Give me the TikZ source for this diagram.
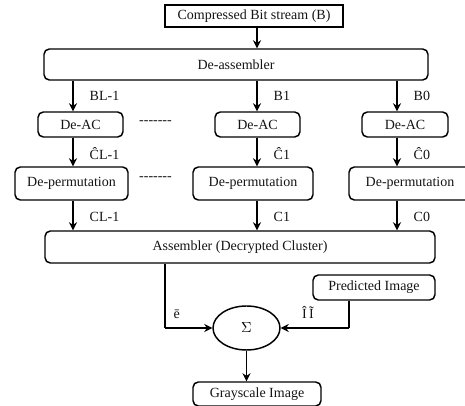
\documentclass[tikz,border=0pt]{standalone}
\usepackage{fontspec}
\setmainfont{Liberation Serif}
\usetikzlibrary{arrows.meta,shapes.geometric}
\definecolor{boxblack}{RGB}{0, 0, 0}
\definecolor{textblack}{RGB}{20, 20, 20}

\begin{document}
\begin{tikzpicture}[
        x=0.75pt, y=-0.75pt,
        font=\fontsize{10.5}{12}\selectfont,
        plainbox/.style={rectangle, draw=boxblack, line width=1.2pt, inner sep=0pt, text=textblack},
        roundbox/.style={rectangle, rounded corners=4pt, draw=boxblack, line width=1.1pt, inner sep=0pt, text=textblack},
        sumnode/.style={ellipse, draw=boxblack, line width=1.1pt, inner sep=0pt, minimum width=50.25pt, minimum height=33pt},
        flow/.style={-{Stealth[length=6pt, width=6pt]}, line width=1.1pt, color=boxblack},
        link/.style={line width=1.1pt, color=boxblack},
        lbl/.style={right, inner sep=0pt, xshift=12pt, text=textblack},
        dots/.style={inner sep=0pt, text=textblack}
    ]
    \useasboundingbox (0,0) rectangle (465,406);

    % Columns of the three branches
    \coordinate (colL) at (73,0);
    \coordinate (colM) at (257,0);
    \coordinate (colR) at (397,0);
    \coordinate (colE) at (165,0);
    \coordinate (colP) at (349,0);

    % Input and de-assembler
    \node[plainbox, minimum width=133.5pt, minimum height=16.5pt] (bitstream) at (254,16) {Compressed Bit stream (B)};
    \node[roundbox, minimum width=288pt, minimum height=23.25pt] (deasm) at (236,64.5) {De-assembler};

    % De-AC stage
    \node[roundbox, minimum width=63.75pt, minimum height=18.75pt] (deacL) at (80.5,124.5) {De-AC};
    \node[roundbox, minimum width=63.75pt, minimum height=18.75pt] (deacM) at (257.5,124.5) {De-AC};
    \node[roundbox, minimum width=64.5pt, minimum height=18.75pt] (deacR) at (405,124.5) {De-AC};
    \node[dots] (dotsA) at (155.5,123) {-{}-{}-{}-{}-{}-{}-};

    % De-permutation stage
    \node[roundbox, minimum width=84.75pt, minimum height=24.75pt] (dpermL) at (71.5,183.5) {De-permutation};
    \node[roundbox, minimum width=90pt, minimum height=24.75pt] (dpermM) at (253,183.5) {De-permutation};
    \node[roundbox, minimum width=91.5pt, minimum height=24.75pt] (dpermR) at (410,183.5) {De-permutation};
    \node[dots] (dotsB) at (155.5,179) {-{}-{}-{}-{}-{}-{}-};

    % Assembler and prediction
    \node[roundbox, minimum width=292.5pt, minimum height=24pt] (asm) at (240,247) {Assembler (Decrypted Cluster)};
    \node[roundbox, minimum width=91.5pt, minimum height=18.75pt] (pred) at (374,287.5) {Predicted Image};
    \node[sumnode] (sigma) at (246.5,328) {$\Sigma$};
    \node[roundbox, minimum width=96pt, minimum height=18pt] (gray) at (257,394) {Grayscale Image};

    % Flows
    \draw[flow] (bitstream.south -| colM) -- (deasm.north -| colM);

    \draw[flow] (colL |- deasm.south) -- node[lbl, pos=0.5] {BL-1} (colL |- deacL.north);
    \draw[flow] (colM |- deasm.south) -- node[lbl, pos=0.5] {B1} (colM |- deacM.north);
    \draw[flow] (colR |- deasm.south) -- node[lbl, pos=0.5] {B0} (colR |- deacR.north);

    \draw[flow] (colL |- deacL.south) -- node[lbl, pos=0.55] {\^{C}L-1} (colL |- dpermL.north);
    \draw[flow] (colM |- deacM.south) -- node[lbl, pos=0.55] {\^{C}1} (colM |- dpermM.north);
    \draw[flow] (colR |- deacR.south) -- node[lbl, pos=0.55] {\^{C}0} (colR |- dpermR.north);

    \draw[flow] (colL |- dpermL.south) -- node[lbl, pos=0.55] {CL-1} (colL |- asm.north);
    \draw[flow] (colM |- dpermM.south) -- node[lbl, pos=0.55] {C1} (colM |- asm.north);
    \draw[flow] (colR |- dpermR.south) -- node[lbl, pos=0.55] {C0} (colR |- asm.north);

    % Summation
    \draw[link] (colE |- asm.south) -- (colE |- sigma.west);
    \draw[flow] (colE |- sigma.west) -- node[above, pos=0.25, yshift=3pt, text=textblack] {\=e} (sigma.west);
    \draw[link] (colP |- pred.south) -- (colP |- sigma.east);
    \draw[flow] (colP |- sigma.east) -- node[above, pos=0.6, yshift=3pt, text=textblack] {\^{I}\,\~{I}} (sigma.east);
    \draw[flow] (sigma.south) -- (sigma.south |- gray.north);

    \end{tikzpicture}
\end{document}
